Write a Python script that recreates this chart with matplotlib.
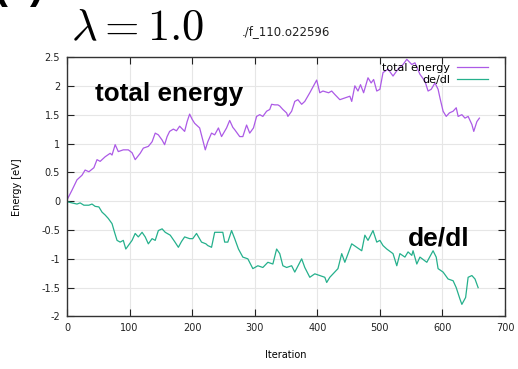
import matplotlib
matplotlib.use("Agg")
import matplotlib.pyplot as plt
from matplotlib.ticker import FuncFormatter

plt.rcParams["axes.unicode_minus"] = False
plt.rcParams["mathtext.fontset"] = "cm"

# total energy vs iteration
te_iter = [0, 8, 16, 24, 29, 35, 43, 48, 53, 61, 69, 72, 77, 82, 90, 98, 104, 109,
           117, 122, 130, 136, 141, 146, 152, 156, 160, 164, 170, 175, 180, 188, 192,
           196, 200, 204, 212, 217, 221, 225, 231, 236, 242, 247, 255, 260, 265, 268,
           276, 281, 287, 292, 298, 303, 308, 313, 319, 324, 327, 332, 337, 340, 345,
           351, 353, 359, 364, 369, 375, 380, 388, 394, 399, 404, 409, 418, 423, 428,
           436, 444, 452, 455, 460, 465, 469, 474, 481, 486, 490, 495, 500, 505, 513,
           521, 529, 537, 543, 551, 556, 564, 572, 577, 582, 588, 593, 596, 601, 606,
           611, 617, 622, 625, 631, 636, 641, 647, 650, 655, 659]
te_val = [0.02, 0.19, 0.37, 0.45, 0.54, 0.51, 0.58, 0.72, 0.69, 0.77, 0.83, 0.80, 0.98,
          0.86, 0.89, 0.89, 0.84, 0.72, 0.83, 0.92, 0.95, 1.03, 1.18, 1.15, 1.06, 0.98,
          1.12, 1.21, 1.25, 1.22, 1.30, 1.21, 1.38, 1.51, 1.42, 1.35, 1.27, 1.06, 0.89,
          1.03, 1.18, 1.15, 1.27, 1.12, 1.27, 1.40, 1.28, 1.24, 1.12, 1.12, 1.32, 1.18,
          1.27, 1.47, 1.50, 1.47, 1.56, 1.59, 1.68, 1.67, 1.67, 1.65, 1.59, 1.53, 1.47,
          1.56, 1.73, 1.76, 1.68, 1.73, 1.88, 2.00, 2.10, 1.88, 1.91, 1.88, 1.91, 1.85,
          1.76, 1.79, 1.82, 1.73, 2.00, 1.91, 2.02, 1.88, 2.14, 2.05, 2.11, 1.91, 1.94,
          2.23, 2.29, 2.17, 2.29, 2.37, 2.46, 2.37, 2.40, 2.20, 2.08, 1.91, 1.94, 2.05,
          1.94, 1.79, 1.56, 1.47, 1.53, 1.56, 1.62, 1.47, 1.50, 1.44, 1.47, 1.33, 1.21,
          1.38, 1.44]

# de/dl vs iteration
dedl_iter = [0, 8, 16, 21, 27, 35, 40, 45, 51, 56, 61, 66, 72, 76, 80, 85, 90, 94, 98,
             104, 109, 114, 120, 125, 130, 136, 141, 146, 152, 157, 165, 172, 178, 183,
             188, 196, 201, 207, 215, 222, 225, 231, 236, 244, 249, 252, 257, 263, 268,
             274, 281, 289, 297, 305, 313, 321, 329, 335, 340, 345, 351, 359, 364, 375,
             380, 388, 396, 404, 412, 415, 420, 433, 439, 444, 455, 463, 471, 476, 481,
             489, 495, 500, 505, 511, 521, 527, 532, 540, 545, 551, 553, 559, 564, 575,
             585, 590, 593, 601, 609, 617, 622, 628, 631, 637, 641, 647, 652, 657]
dedl_val = [-0.01, -0.03, -0.05, -0.03, -0.07, -0.07, -0.05, -0.09, -0.10, -0.19, -0.24,
            -0.30, -0.39, -0.54, -0.68, -0.71, -0.68, -0.83, -0.77, -0.68, -0.56, -0.62,
            -0.54, -0.62, -0.74, -0.65, -0.68, -0.51, -0.48, -0.54, -0.59, -0.70, -0.80,
            -0.70, -0.62, -0.65, -0.65, -0.56, -0.71, -0.74, -0.77, -0.80, -0.54, -0.54,
            -0.54, -0.71, -0.71, -0.51, -0.65, -0.83, -0.97, -1.00, -1.17, -1.12, -1.15,
            -1.06, -1.09, -0.83, -0.91, -1.12, -1.15, -1.12, -1.23, -1.00, -1.15, -1.32,
            -1.26, -1.29, -1.32, -1.41, -1.32, -1.17, -0.91, -1.06, -0.74, -0.80, -0.86,
            -0.59, -0.68, -0.51, -0.71, -0.68, -0.77, -0.83, -0.91, -1.12, -0.91, -0.97,
            -0.88, -0.94, -0.86, -1.09, -0.97, -1.06, -0.86, -0.97, -1.17, -1.23, -1.35,
            -1.38, -1.50, -1.70, -1.79, -1.67, -1.32, -1.29, -1.35, -1.50]

fig = plt.figure(figsize=(5.18, 3.69), dpi=100)
ax = fig.add_axes([0.1293, 0.1423, 0.8457, 0.7032])

ax.plot(te_iter, te_val, color="#ac5ae6", lw=0.9, label="total energy")
ax.plot(dedl_iter, dedl_val, color="#25b08c", lw=0.9, label="de/dl")

ax.set_xlim(0, 700)
ax.set_ylim(-2, 2.5)
ax.set_xticks(range(0, 701, 100))
ax.set_yticks([-2, -1.5, -1, -0.5, 0, 0.5, 1, 1.5, 2, 2.5])
ax.yaxis.set_major_formatter(FuncFormatter(lambda v, p: "%g" % v))
ax.tick_params(direction="in", length=5, width=0.8, labelsize=7, pad=5,
               top=True, right=True, colors="#222222")
ax.grid(True, color="#e6e6e6", lw=0.8)
ax.set_axisbelow(True)
for s in ax.spines.values():
    s.set_linewidth(1.0)
    s.set_color("#333333")

ax.set_xlabel("Iteration", fontsize=7, labelpad=12)
ax.set_ylabel("Energy [eV]", fontsize=7, labelpad=14)

leg = ax.legend(loc="upper right", frameon=False, markerfirst=False, fontsize=8,
                handlelength=2.8, handletextpad=0.6, labelspacing=0.2,
                borderaxespad=0.15, bbox_to_anchor=(0.975, 1.0))

# annotations
ax.text(0.065, 0.83, "total energy", transform=ax.transAxes, fontsize=18.8,
        fontweight="bold", family="Liberation Sans", va="baseline")
ax.text(0.778, 0.2755, "de/dl", transform=ax.transAxes, fontsize=19,
        fontweight="bold", family="Liberation Sans", va="baseline")

fig.text(0.138, 0.89, r"$\lambda = 1.0$", fontsize=32)
fig.text(0.467, 0.905, "./f_110.o22596", fontsize=8.5, color="#222222")
fig.text(-0.012, 1.005, "(c)", fontsize=30, fontweight="bold",
         family="Liberation Sans")

fig.savefig("out.png", dpi=100)
